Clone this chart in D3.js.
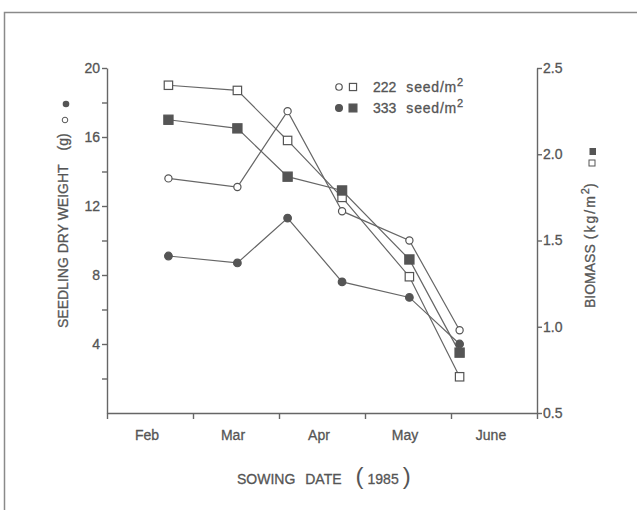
<!DOCTYPE html>
<html>
<head>
<meta charset="utf-8">
<script src="https://cdn.jsdelivr.net/npm/d3@7"></script>
<style>
  body { margin: 0; background: #fff; }
  text { font-family: "Liberation Sans", Arial, sans-serif; fill: #555; stroke: #555; stroke-width: 0.3px; }
</style>
</head>
<body>
<svg id="chart" width="637" height="510"></svg>
<script>
// sowing dates and values
const sowingDates = ["1985-02-21", "1985-03-17", "1985-04-04", "1985-04-23", "1985-05-17", "1985-06-04"];
const weight222 = [13.6, 13.1, 17.5, 11.7, 10.0, 4.8];   // seedling dry weight (g), open circles
const weight333 = [9.1, 8.7, 11.3, 7.6, 6.7, 4.0];       // filled circles
const biomass222 = [2.40, 2.37, 2.08, 1.75, 1.29, 0.71]; // biomass (kg/m2), open squares
const biomass333 = [2.20, 2.15, 1.87, 1.79, 1.39, 0.85]; // filled squares
const months = ["Feb", "Mar", "Apr", "May", "June"];
const leftTicks = [2, 4, 6, 8, 10, 12, 14, 16, 18, 20];
const rightTicks = [0.5, 1.0, 1.5, 2.0, 2.5];
const legendLabels = ["222", "333"];

const ink = "#555", lineInk = "#666";
const svg = d3.select("#chart");
const parse = d3.timeParse("%Y-%m-%d");

// months drawn as equal bands, so turn a date into a fractional month index
function monthPos(s) {
	let d = parse(s)
	let days = new Date(d.getFullYear(), d.getMonth() + 1, 0).getDate()
	return (d.getMonth() - 1) + (d.getDate() - 1) / days
}

const x = d3.scaleLinear().domain([0, months.length]).range([107, 537]);
const yL = d3.scaleLinear().domain([0, 20]).range([413, 68]);
const yR = d3.scaleLinear().domain([0.5, 2.5]).range([413, 68]);

// frame of the scanned page
svg.append("path").attr("d", "M4.5,510 V12.5 H637")
	.attr("fill", "none").attr("stroke", "#8a8a8a").attr("stroke-width", 1.5);

function styleAxis(g) {
	g.selectAll("path,line").attr("stroke", lineInk).attr("stroke-width", 1.4)
	g.selectAll("text").attr("fill", ink).style("font-size", "14px")
		.attr("font-family", "Liberation Sans, Arial, sans-serif")
}

svg.append("g").attr("transform", "translate(107,0)")
	.call(d3.axisLeft(yL).tickValues(leftTicks).tickSize(5).tickSizeOuter(0).tickPadding(2)
		.tickFormat(d => d % 4 === 0 ? d : ""))
	.call(styleAxis);

svg.append("g").attr("transform", "translate(537,0)")
	.call(d3.axisRight(yR).tickValues(rightTicks).tickSize(5).tickSizeOuter(0).tickPadding(1)
		.tickFormat(d3.format(".1f")))
	.call(styleAxis);

svg.append("g").attr("transform", "translate(0,413)")
	.call(d3.axisBottom(x).tickValues(d3.range(months.length + 1)).tickSize(6).tickSizeOuter(0)
		.tickFormat(""))
	.call(styleAxis);

svg.append("g").selectAll("text").data(months).join("text")
	.attr("x", (d, i) => x(i + 0.5) - 3).attr("y", 440)
	.attr("text-anchor", "middle").style("font-size", "14px")
	.text(d => d);

// axis titles
const xt = svg.append("text").attr("x", 237).attr("y", 484).style("font-size", "14px");
xt.append("tspan").attr("word-spacing", "6px").text("SOWING DATE");
xt.append("tspan").attr("dx", 14).style("font-size", "24px").style("stroke-width", 0).text("(");
xt.append("tspan").attr("dx", 4).text("1985");
xt.append("tspan").attr("dx", 4).style("font-size", "24px").style("stroke-width", 0).text(")");

const lt = svg.append("text").attr("transform", "translate(68,328) rotate(-90)").style("font-size", "14px");
lt.append("tspan").text("SEEDLING DRY WEIGHT");
lt.append("tspan").attr("dx", 14).text("(g)");
const lg = svg.append("g");
lg.append("circle").attr("cx", 65).attr("cy", 120).attr("r", 2.8).attr("fill", "#fff").attr("stroke", ink);
lg.append("circle").attr("cx", 66).attr("cy", 104).attr("r", 3.3).attr("fill", ink);

const rt = svg.append("text").attr("transform", "translate(595,308) rotate(-90)").style("font-size", "14px");
rt.append("tspan").text("BIOMASS");
rt.append("tspan").attr("dx", 5).attr("letter-spacing", "2px").text("(kg/m");
rt.append("tspan").attr("dy", -6).style("font-size", "11px").text("2");
rt.append("tspan").attr("dy", 6).text(")");
svg.append("rect").attr("x", 589).attr("y", 160).attr("width", 6).attr("height", 6)
	.attr("fill", "#fff").attr("stroke", ink);
svg.append("rect").attr("x", 589.5).attr("y", 148).attr("width", 6.5).attr("height", 7).attr("fill", ink);

// series
const series = [
	{ values: weight222, y: yL, shape: "circle", filled: false },
	{ values: weight333, y: yL, shape: "circle", filled: true },
	{ values: biomass222, y: yR, shape: "square", filled: false },
	{ values: biomass333, y: yR, shape: "square", filled: true }
];
const xs = sowingDates.map(monthPos);

series.forEach(s => {
	let pts = xs.map((m, i) => [x(m), s.y(s.values[i])])
	svg.append("path").datum(pts)
		.attr("d", d3.line())
		.attr("fill", "none").attr("stroke", lineInk).attr("stroke-width", 1.2)
})

function marker(g, shape, filled, cx, cy, scale) {
	if (shape === "circle") {
		let r = (filled ? 3.8 : 3.6) * scale
		g.append("circle").attr("cx", cx).attr("cy", cy).attr("r", r)
			.attr("fill", filled ? ink : "#fff").attr("stroke", ink).attr("stroke-width", 1.2)
	} else {
		let h = (filled ? 4.6 : 4.2) * scale
		g.append("rect").attr("x", cx - h).attr("y", cy - h).attr("width", 2 * h).attr("height", 2 * h)
			.attr("fill", filled ? ink : "#fff").attr("stroke", ink).attr("stroke-width", 1.2)
	}
}

const marks = svg.append("g");
series.forEach(s => {
	xs.forEach((m, i) => marker(marks, s.shape, s.filled, x(m), s.y(s.values[i]), 1))
})

// legend
const leg = svg.append("g");
legendLabels.forEach((lab, i) => {
	let cy = 87 + i * 21
	marker(leg, "circle", i === 1, 339, cy, 0.9)
	marker(leg, "square", i === 1, 353, cy, 0.85)
	let t = leg.append("text").attr("x", 373).attr("y", cy + 5).style("font-size", "14px")
	t.append("tspan").text(lab)
	t.append("tspan").attr("dx", 10).attr("letter-spacing", "0.8px").text("seed/m")
	t.append("tspan").attr("dy", -6).style("font-size", "11px").text("2")
})
</script>
</body>
</html>
